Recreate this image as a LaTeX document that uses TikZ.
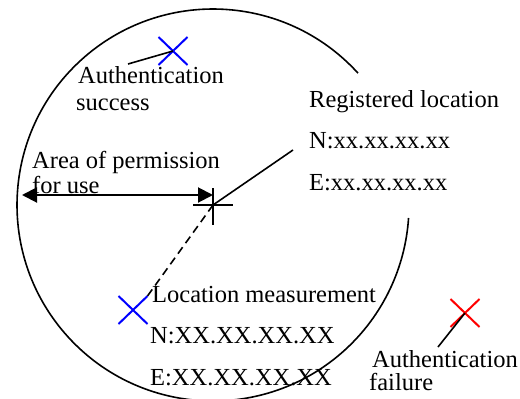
\documentclass[tikz,border=0pt]{standalone}
\usepackage{fontspec}
\setmainfont{Liberation Serif}
\newfontfamily\lblfont{Liberation Serif}
\usetikzlibrary{arrows.meta,shapes.misc}
\begin{document}
\begin{tikzpicture}[x=1pt,y=-1pt,
  lbl/.style={anchor=base west,inner sep=0pt,font=\lblfont\fontsize{24.5}{28}\selectfont},
  xmark/.style={cross out,draw=#1,line width=2pt,minimum width=27pt,minimum height=26pt,inner sep=0pt},
  ring/.style={line width=1.6pt},
  leader/.style={line width=1.6pt},
  bigtip/.tip={Triangle[length=15pt,width=15pt]}]
\useasboundingbox (0,0) rectangle (520,399);
\coordinate (c) at (213,205);
% circle with gap
\draw[ring] (c) ++(-42.3:196) arc[start angle=-42.3,end angle=-356.2,radius=196];
% crosshair at registered location
\draw[ring] (c) ++(-20,0) -- ++(40,0);
\draw[ring] (c) ++(0,-17) -- ++(0,37);
% area arrow
\coordinate (al) at (22,195);
\coordinate (ar) at (213,195);
\draw[bigtip-bigtip,line width=2pt] (al) -- (ar);
% marks
\node[xmark=blue] (s) at (173,51) {};
\node[xmark=blue] (m) at (133,310) {};
\node[xmark=red] (f) at (465,313) {};
% leaders
\coordinate (sl) at (128,64);
\coordinate (rl) at (293,150);
\coordinate (fl) at (438,347);
\draw[leader] (sl) -- (s.center);
\draw[leader] (c) -- (rl);
\draw[leader] (fl) -- (f.center);
\draw[leader,dash pattern=on 8pt off 5pt] (c) -- (m.north east);
% texts
\node[lbl] (t1) at (78,83) {Authentication};
\node[lbl] (t2) at (76,110) {success};
\node[lbl] (a1) at (32,168) {Area of permission};
\node[lbl] (a2) at (32,193) {for use};
\node[lbl] (r1) at (309,107) {Registered location};
\node[lbl] (r2) at (309,148) {N:xx.xx.xx.xx};
\node[lbl] (r3) at (309,190) {E:xx.xx.xx.xx};
\node[lbl] (l1) at (152,302) {Location measurement};
\node[lbl] (l2) at (150,343) {N:XX.XX.XX.XX};
\node[lbl] (l3) at (150,385) {E:XX.XX.XX.XX};
\node[lbl] (f1) at (372,367) {Authentication};
\node[lbl] (f2) at (369,390) {failure};
\end{tikzpicture}
\end{document}
